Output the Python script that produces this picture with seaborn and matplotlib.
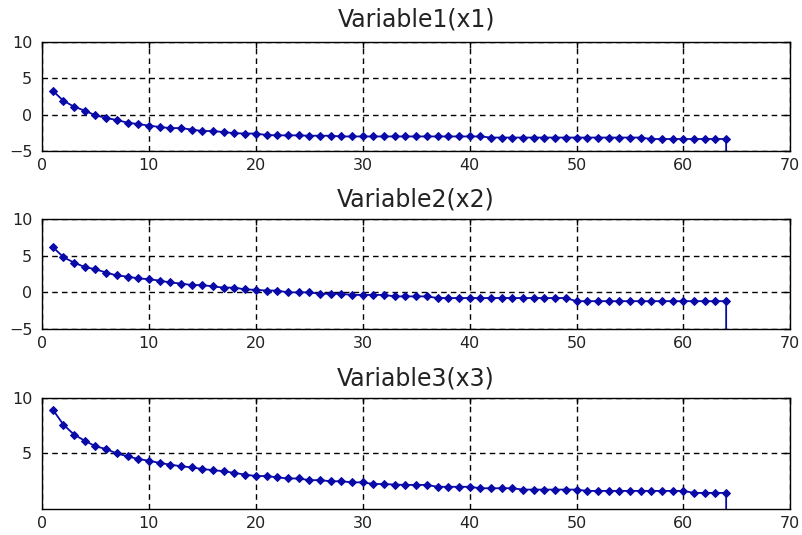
import numpy as np
import pandas as pd
import matplotlib
matplotlib.use("Agg")
import matplotlib.pyplot as plt
import seaborn as sns

# ---- data ----
iterations = list(range(1, 65)) + [64]

x1_values = [3.3, 1.9, 1.1, 0.55, -0.1, -0.45, -0.75, -1.1, -1.3, -1.5,
             -1.7, -1.85, -1.85, -2.05, -2.25, -2.25, -2.4, -2.55, -2.6, -2.6,
             -2.8, -2.85, -2.85, -2.85, -2.9, -2.9, -2.9, -3.0, -3.0, -3.0,
             -3.0, -3.0, -3.0, -3.0, -3.0, -3.0, -3.0, -3.0, -3.0, -3.0,
             -3.0, -3.15, -3.15, -3.15, -3.15, -3.15, -3.15, -3.15, -3.15, -3.15,
             -3.15, -3.15, -3.15, -3.15, -3.15, -3.15, -3.35, -3.35, -3.35, -3.35,
             -3.35, -3.35, -3.35, -3.35, -5.0]

x2_values = [6.2, 4.8, 4.05, 3.45, 3.15, 2.7, 2.3, 2.15, 1.9, 1.8,
             1.6, 1.35, 1.2, 1.0, 1.0, 0.8, 0.65, 0.65, 0.4, 0.35,
             0.25, 0.25, 0.0, 0.0, 0.0, -0.2, -0.2, -0.2, -0.35, -0.35,
             -0.35, -0.35, -0.55, -0.55, -0.55, -0.55, -0.77, -0.77, -0.77, -0.77,
             -0.77, -0.77, -0.77, -0.77, -0.77, -0.77, -0.77, -0.77, -0.77, -1.2,
             -1.2, -1.2, -1.2, -1.2, -1.2, -1.2, -1.2, -1.2, -1.2, -1.2,
             -1.2, -1.2, -1.2, -1.2, -5.0]

x3_values = [8.96, 7.6, 6.7, 6.15, 5.65, 5.4, 5.0, 4.75, 4.5, 4.35,
             4.15, 4.0, 3.85, 3.75, 3.6, 3.5, 3.4, 3.25, 3.1, 2.97,
             2.97, 2.85, 2.75, 2.75, 2.6, 2.6, 2.5, 2.5, 2.4, 2.4,
             2.25, 2.25, 2.2, 2.17, 2.17, 2.17, 2.0, 2.0, 2.0, 2.0,
             1.87, 1.87, 1.87, 1.87, 1.75, 1.75, 1.75, 1.75, 1.75, 1.75,
             1.63, 1.63, 1.63, 1.63, 1.63, 1.63, 1.63, 1.63, 1.63, 1.63,
             1.45, 1.45, 1.45, 1.45, 0.0]

titles = ["Variable1(x1)", "Variable2(x2)", "Variable3(x3)"]
ylims = [(-5, 10), (-5, 10), (0, 10)]
yticks = [[-5, 0, 5, 10], [-5, 0, 5, 10], [5, 10]]
xticks = [0, 10, 20, 30, 40, 50, 60, 70]

sns.set_theme(style="white")
plt.rcParams['font.family'] = ['DejaVu Sans']

fig = plt.figure(figsize=(8.02, 5.35), dpi=100)
positions = [
    [0.0524, 0.7178, 0.933, 0.2037],
    [0.0524, 0.3850, 0.933, 0.2056],
    [0.0524, 0.0486, 0.933, 0.2075],
]
title_pads = [11, 9, 9]

line_color = "#0a0aa8"
series = [x1_values, x2_values, x3_values]
for pos, vals, title, yl, yt, tp in zip(positions, series, titles, ylims, yticks, title_pads):
    ax = fig.add_axes(pos)
    df = pd.DataFrame({"iter": iterations, "value": vals})
    sns.lineplot(data=df, x="iter", y="value", ax=ax, sort=False,
                 estimator=None, color=line_color, linewidth=1.3,
                 marker="D", markersize=3.8, markeredgecolor=line_color,
                 markerfacecolor=line_color, markevery=list(range(64)))
    ax.set_xlim(0, 70)
    ax.set_ylim(*yl)
    ax.set_xticks(xticks)
    ax.set_yticks(yt)
    ax.set_xlabel("")
    ax.set_ylabel("")
    ax.set_title(title, fontsize=17, pad=tp, color="#222222")
    ax.grid(True, color="black", linestyle=(0, (4, 3)), linewidth=1.0)
    for s in ax.spines.values():
        s.set_color("black")
        s.set_linewidth(1.0)
        s.set_visible(True)
    ax.tick_params(axis="both", direction="in", length=4, width=1,
                   colors="black", labelsize=11.5, top=True, right=True,
                   labelcolor="#222222")
    ax.tick_params(axis="y", pad=7)
    ax.tick_params(axis="x", pad=5)

fig.savefig("out.png", dpi=100, facecolor="white")
